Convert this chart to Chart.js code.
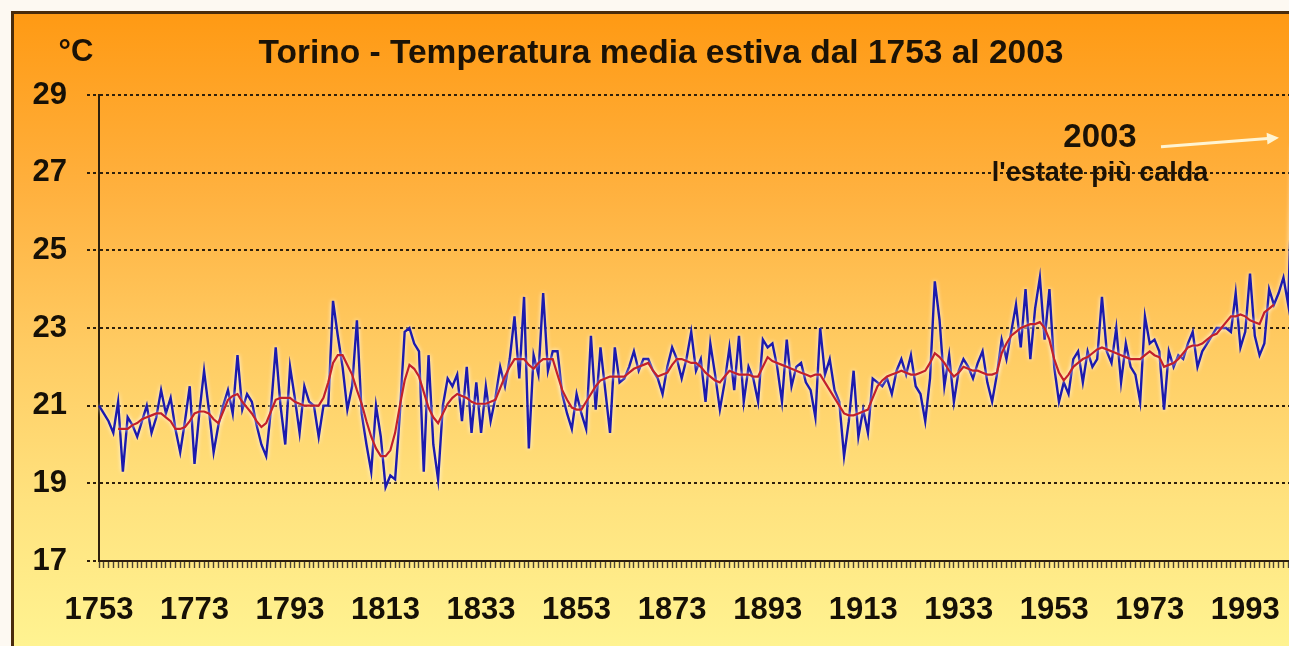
<!DOCTYPE html>
<html>
<head>
<meta charset="utf-8">
<script src="https://cdn.jsdelivr.net/npm/chart.js@4.4.0/dist/chart.umd.min.js"></script>
<style>
html,body{margin:0;padding:0;width:1289px;height:646px;overflow:hidden;background:#fdf9f2;font-family:"Liberation Sans",Arial,sans-serif}
#frame{position:absolute;left:11px;top:11px;width:1300px;height:640px;border-left:3px solid #4a2c0c;border-top:3px solid #4a2c0c;
  background:linear-gradient(to bottom,#ff9a14 0%,#ffb13f 28%,#ffcb62 52%,#ffe27e 76%,#fff492 100%)}
#chart_box{position:absolute;left:0;top:0;width:1317px;height:646px}
.txt{position:absolute;font-weight:bold;color:#1b1206;white-space:nowrap;line-height:1}
</style>
</head>
<body>
<div id="frame"></div>
<div id="chart_box"><canvas id="temp_chart" width="1317" height="646"></canvas></div>
<div class="txt" style="left:0;width:152px;text-align:center;top:35px;font-size:31px">°C</div>
<div class="txt" style="left:0;width:1322px;text-align:center;top:35px;font-size:33.5px">Torino - Temperatura media estiva dal 1753 al 2003</div>
<div class="txt" style="left:1000px;width:200px;text-align:center;top:119px;font-size:33px">2003</div>
<div class="txt" style="left:950px;width:300px;text-align:center;top:159px;font-size:27px">l'estate più calda</div>
<script>
//years on the category axis
var first_year = 1753
var last_year = 2003
var years = []
for (let y = first_year; y <= last_year; y++) years.push(String(y))

//labelled years under the axis
var tick_years = ["1753","1773","1793","1813","1833","1853","1873","1893","1913","1933","1953","1973","1993"]
var y_ticks = [17, 19, 21, 23, 25, 27, 29]
var arrow_value = 27.9

//summer mean temperature, one value per year (1753..2003)
var summer_temp = [
  21.0, 20.8, 20.6, 20.3, 21.1, 19.3, 20.7, 20.5, 20.2, 20.6,
  21.0, 20.3, 20.7, 21.4, 20.8, 21.2, 20.4, 19.8, 20.6, 21.5,
  19.5, 20.8, 21.9, 20.9, 19.8, 20.5, 21.0, 21.4, 20.8, 22.3,
  20.9, 21.3, 21.1, 20.5, 20.0, 19.7, 20.9, 22.5, 21.0, 20.0,
  22.0, 21.2, 20.3, 21.5, 21.1, 21.0, 20.2, 21.0, 21.0, 23.7,
  22.8, 22.0, 20.9, 21.5, 23.2, 20.8, 20.0, 19.3, 21.0, 20.2,
  18.9, 19.2, 19.1, 20.8, 22.9, 23.0, 22.6, 22.4, 19.3, 22.3,
  20.0, 19.1, 21.0, 21.7, 21.5, 21.8, 20.6, 22.0, 20.3, 21.6,
  20.3, 21.5, 20.6, 21.2, 22.0, 21.5, 22.2, 23.3, 21.7, 23.8,
  19.9, 22.3, 21.8, 23.9, 21.9, 22.4, 22.4, 21.3, 20.8, 20.4,
  21.3, 20.8, 20.4, 22.8, 20.9, 22.5, 21.4, 20.3, 22.5, 21.6,
  21.7, 22.0, 22.4, 21.9, 22.2, 22.2, 21.9, 21.7, 21.3, 22.0,
  22.5, 22.2, 21.7, 22.2, 22.9, 21.9, 22.2, 21.1, 22.6, 21.8,
  20.9, 21.6, 22.5, 21.4, 22.8, 21.1, 22.0, 21.7, 21.1, 22.7,
  22.5, 22.6, 22.0, 21.1, 22.7, 21.5, 22.0, 22.1, 21.6, 21.4,
  20.7, 23.0, 21.8, 22.2, 21.4, 21.1, 19.7, 20.6, 21.9, 20.2,
  20.9, 20.3, 21.7, 21.6, 21.5, 21.7, 21.3, 21.9, 22.2, 21.8,
  22.3, 21.5, 21.3, 20.6, 21.7, 24.2, 23.2, 21.5, 22.3, 21.1,
  21.9, 22.2, 22.0, 21.7, 22.1, 22.4, 21.6, 21.1, 21.8, 22.7,
  22.2, 22.9, 23.6, 22.5, 24.0, 22.2, 23.5, 24.3, 22.7, 24.0,
  22.0, 21.1, 21.6, 21.3, 22.2, 22.4, 21.6, 22.4, 22.0, 22.2,
  23.8, 22.4, 22.1, 23.0, 21.6, 22.6, 22.0, 21.8, 21.1, 23.3,
  22.6, 22.7, 22.4, 20.9, 22.4, 22.0, 22.3, 22.2, 22.6, 22.9,
  22.0, 22.4, 22.6, 22.8, 23.0, 23.0, 23.0, 22.9, 23.9, 22.5,
  22.9, 24.4, 22.8, 22.3, 22.6, 24.0, 23.6, 23.9, 24.3, 23.6,
  27.7
]

//smoothed curve (red)
var smooth_temp = [
  null, null, null, null, 20.4, 20.4, 20.4, 20.5, 20.55, 20.65,
  20.7, 20.75, 20.8, 20.8, 20.7, 20.6, 20.4, 20.4, 20.45, 20.6,
  20.8, 20.85, 20.85, 20.8, 20.65, 20.55, 20.85, 21.15, 21.25, 21.3,
  21.1, 20.95, 20.8, 20.6, 20.45, 20.55, 20.85, 21.15, 21.2, 21.2,
  21.2, 21.1, 21.05, 21.0, 21.0, 21.0, 21.0, 21.2, 21.6, 22.1,
  22.3, 22.3, 22.05, 21.8, 21.4, 21.05, 20.6, 20.2, 19.9, 19.7,
  19.7, 19.85, 20.3, 21.0, 21.65, 22.05, 21.95, 21.75, 21.35, 20.95,
  20.7, 20.55, 20.8, 21.05, 21.2, 21.3, 21.25, 21.2, 21.1, 21.05,
  21.05, 21.05, 21.1, 21.15, 21.45, 21.75, 22.0, 22.2, 22.2, 22.2,
  22.05, 21.95, 22.1, 22.2, 22.2, 22.2, 21.8, 21.4, 21.15, 20.95,
  20.9, 20.9, 21.1, 21.3, 21.5, 21.65, 21.7, 21.75, 21.75, 21.75,
  21.75, 21.85, 21.95, 22.0, 22.05, 22.1, 21.9, 21.75, 21.8, 21.85,
  22.05, 22.2, 22.2, 22.15, 22.1, 22.1, 22.0, 21.85, 21.75, 21.65,
  21.6, 21.75, 21.9, 21.85, 21.8, 21.8, 21.8, 21.75, 21.75, 22.0,
  22.25, 22.15, 22.1, 22.05, 22.0, 21.95, 21.9, 21.85, 21.8, 21.75,
  21.8, 21.8, 21.6, 21.4, 21.2, 21.0, 20.8, 20.75, 20.75, 20.8,
  20.85, 20.9, 21.2, 21.5, 21.65, 21.75, 21.8, 21.85, 21.9, 21.85,
  21.8, 21.8, 21.85, 21.9, 22.1, 22.35, 22.25, 22.1, 21.9, 21.75,
  21.85, 22.0, 21.95, 21.9, 21.9, 21.85, 21.8, 21.8, 21.85, 22.35,
  22.6, 22.8, 22.9, 23.0, 23.05, 23.1, 23.1, 23.15, 23.0, 22.7,
  22.2, 21.85, 21.65, 21.8, 22.0, 22.1, 22.2, 22.25, 22.35, 22.45,
  22.5, 22.45, 22.4, 22.35, 22.3, 22.25, 22.2, 22.2, 22.2, 22.3,
  22.4, 22.3, 22.25, 22.0, 22.05, 22.1, 22.2, 22.35, 22.5, 22.55,
  22.55, 22.6, 22.7, 22.8, 22.85, 23.0, 23.15, 23.3, 23.3, 23.35,
  23.3, 23.2, 23.15, 23.1, 23.4, 23.5, 23.6, null, null, null,
  null
]

var dark = '#2e200c'

// soft light halo round the lines, like the original picture
var glow_plugin = {
    id: 'glow',
    beforeDatasetDraw: function(chart){
        chart.ctx.save()
        chart.ctx.shadowColor = 'rgba(255,255,255,0.9)'
        chart.ctx.shadowBlur = 4
    },
    afterDatasetDraw: function(chart){
        chart.ctx.restore()
    }
}

// white arrow pointing at the 2003 value
var arrow_plugin = {
    id: 'arrow',
    afterDraw: function(chart){
        var ctx = chart.ctx
        var hx = chart.scales.x.getPixelForValue(years.length - 1) - 14
        var hy = chart.scales.y.getPixelForValue(arrow_value)
        var tx = hx - 118, ty = hy + 9
        var ang = Math.atan2(hy - ty, hx - tx)
        ctx.save()
        ctx.strokeStyle = '#fff4d2'
        ctx.fillStyle = '#fff4d2'
        ctx.lineWidth = 3
        ctx.beginPath()
        ctx.moveTo(tx, ty)
        ctx.lineTo(hx - 8 * Math.cos(ang), hy - 8 * Math.sin(ang))
        ctx.stroke()
        ctx.beginPath()
        ctx.moveTo(hx, hy)
        ctx.lineTo(hx - 12 * Math.cos(ang) + 6 * Math.sin(ang), hy - 12 * Math.sin(ang) - 6 * Math.cos(ang))
        ctx.lineTo(hx - 12 * Math.cos(ang) - 6 * Math.sin(ang), hy - 12 * Math.sin(ang) + 6 * Math.cos(ang))
        ctx.closePath()
        ctx.fill()
        ctx.restore()
    }
}

Chart.defaults.font.family = '"Liberation Sans", Arial, sans-serif'

var element = document.getElementById('temp_chart')
var chart = new Chart(element, {
    type: 'line',
    data: {
        labels: years,
        datasets: [
            {
                label: 'media mobile',
                data: smooth_temp,
                borderColor: '#c3202a',
                borderWidth: 2.2,
                pointRadius: 0,
                tension: 0,
                order: 0
            },
            {
                label: 'temperatura',
                data: summer_temp,
                borderColor: '#1c1aae',
                borderWidth: 2.4,
                pointRadius: 0,
                tension: 0,
                order: 1
            }
        ]
    },
    options: {
        responsive: false,
        animation: false,
        maintainAspectRatio: false,
        // note: the x tick padding (24) also sets the right inset of the plot
        layout: {padding: {left: 0, top: 95, right: 0, bottom: 0}},
        plugins: {legend: {display: false}, tooltip: {enabled: false}},
        scales: {
            x: {
                offset: false,
                afterFit: function(scale){ scale.height = 85 },
                border: {display: true, color: dark, width: 2},
                grid: {drawOnChartArea: false, drawTicks: true, tickLength: 7, tickColor: '#4d4636', tickWidth: 1.4},
                ticks: {
                    autoSkip: false,
                    maxRotation: 0,
                    minRotation: 0,
                    padding: 24,
                    color: '#161006',
                    font: {size: 31, weight: 'bold'},
                    callback: function(value, index){
                        return tick_years.indexOf(years[index]) >= 0 ? years[index] : ''
                    }
                }
            },
            y: {
                min: y_ticks[0],
                max: y_ticks[y_ticks.length - 1],
                afterFit: function(scale){ scale.width = 99 },
                afterBuildTicks: function(scale){ scale.ticks = y_ticks.map(function(v){ return {value: v} }) },
                border: {display: true, color: dark, width: 2, dash: [3, 3]},
                grid: {
                    color: dark, lineWidth: 2,
                    drawTicks: true, tickLength: 12, tickColor: dark, tickWidth: 2, tickBorderDash: [3, 3]
                },
                ticks: {padding: 20, color: '#161006', font: {size: 31, weight: 'bold'}}
            }
        }
    },
    plugins: [glow_plugin, arrow_plugin]
})
</script>
</body>
</html>
